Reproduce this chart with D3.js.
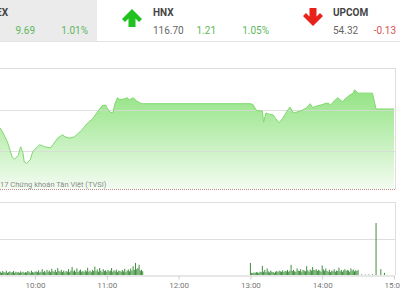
<!DOCTYPE html>
<html>
<head>
<meta charset="utf-8">
<script src="https://cdn.jsdelivr.net/npm/d3@7"></script>
<style>
  body { margin: 0; background: #fff; }
  svg { display: block; font-family: Roboto, "Noto Sans", sans-serif; }
</style>
</head>
<body>
<div id="chart"></div>
<script>
// header quotes
const quoteNames = ["VN-INDEX", "HNX", "UPCOM"];
const quoteValues = ["969.09", "116.70", "54.32"];
const quoteChanges = ["9.69", "1.21", "-0.13"];
const quotePcts = ["1.01%", "1.05%", "-0.24%"];

// intraday index (HNX)
const priceTimes = ["09:15","09:25","09:31","09:33","09:37","09:41","09:43","09:46","09:48","09:50","09:51","09:53","09:56","09:58",
  "10:02","10:04","10:08","10:13","10:15","10:19","10:23","10:25","10:29","10:33","10:39","10:44","10:48","10:52","10:56","10:59",
  "11:00","11:03","11:05","11:07","11:09","11:11","11:14","11:17","11:19","11:22","11:25","11:28","11:30",
  "13:00","13:02","13:05","13:08","13:10","13:11","13:13","13:16","13:19","13:21","13:24","13:27","13:31","13:33","13:36","13:38",
  "13:42","13:45","13:47","13:50","13:52","13:56","13:59","14:02","14:05","14:07","14:10","14:13","14:17","14:19","14:21","14:23",
  "14:26","14:27","14:30","14:42","14:45","15:00"];
const priceValues = [116.60,116.50,116.41,116.35,116.20,115.97,115.94,116.00,116.13,116.03,115.90,115.88,115.93,116.05,
  116.13,116.16,116.13,116.11,116.16,116.26,116.31,116.28,116.26,116.28,116.38,116.49,116.55,116.65,116.75,116.76,
  116.72,116.65,116.64,116.79,116.87,116.84,116.85,116.87,116.84,116.87,116.82,116.79,116.78,
  116.78,116.77,116.68,116.67,116.67,116.50,116.64,116.62,116.61,116.56,116.49,116.56,116.68,116.73,116.64,116.65,
  116.67,116.70,116.72,116.78,116.72,116.75,116.76,116.78,116.79,116.76,116.82,116.87,116.81,116.85,116.88,116.91,
  116.94,116.99,116.94,116.94,116.70,116.70];
const refPrice = 115.49;
const priceTicks = [116.07, 116.69];

// volume, thousand shares, one bar per minute
const amStart = "09:31";
const amVolumes = [45,30,55,40,35,60,30,40,50,35, 40,55,30,45,35,40,30,50,35,45,
  30,40,35,55,45,30,60,40,35,45, 50,40,65,35,45,80,40,55,35,70,
  45,60,40,85,50,45,70,40,95,55, 45,70,40,60,35,55,45,80,40,60,
  110,50,65,45,90,40,60,75,45,55, 40,65,50,100,45,60,40,70,55,115,
  50,75,45,95,60,40,80,55,65,45, 70,50,60,95,45,65,50,75,40,60,
  55,45,70,50,85,40,60,75,50,90, 60,120,70,165,80,95,140,60,70,50];
const pmStart = "13:00";
const pmVolumes = [165,30,25,35,30,40,35,30,45,40, 125,45,70,40,90,50,35,60,45,40,
  30,45,55,40,60,50,45,65,40,55, 50,70,45,60,140,55,70,50,45,90,
  60,55,80,45,70,60,50,120,65,45, 75,60,110,70,65,80,55,70,60,45,
  130,75,60,90,55,45,70,40,60,50, 80,45,60,55,100,50,70,45,65,80,
  55,70,60,45,90,60,75,50,65,55,70];
const atcTimes = ["14:33","14:36","14:39","14:42","14:45","14:49","14:52"];
const atcVolumes = [8,6,8,10,712,80,30];
const volTicks = [500, 1000];

const W = 400, H = 300;
const parse = d3.timeParse("%H:%M");

const svg = d3.select("#chart").append("svg")
  .attr("width", W).attr("height", H);

// ---------- header ----------
const arrowX = [-58, 132, 313];
const labelX = [-38, 153, 333];
const changeX = [35, 216, 396];
const pctX = [88, 269, 449];

svg.append("rect").attr("x", 0).attr("y", 0).attr("width", 97).attr("height", 41).attr("fill", "#ebebeb");
svg.append("line").attr("x1", 0).attr("x2", W).attr("y1", 41.5).attr("y2", 41.5).attr("stroke", "#e4e4e4");

const upArrow = "M0,0 L10,10 L7,13 L3.5,9.5 L3.5,18 L-3.5,18 L-3.5,9.5 L-7,13 L-10,10 Z";
const downArrow = "M0,18 L10,8 L7,5 L3.5,8.5 L3.5,0 L-3.5,0 L-3.5,8.5 L-7,5 L-10,8 Z";

quoteNames.forEach(function(name, i) {
  const up = !quoteChanges[i].startsWith("-");
  const col = up ? "#5cb85c" : "#d9534f";
  svg.append("path")
    .attr("d", up ? upArrow : downArrow)
    .attr("transform", "translate(" + arrowX[i] + "," + (up ? 9 : 8) + ")")
    .attr("fill", up ? "#1fc21f" : "#e8221b");
  svg.append("text").attr("x", labelX[i]).attr("y", 15.5)
    .attr("font-size", 10).attr("font-weight", "bold").attr("fill", "#444").text(name);
  svg.append("text").attr("x", labelX[i]).attr("y", 33.5)
    .attr("font-size", 10).attr("fill", "#666").text(quoteValues[i]);
  svg.append("text").attr("x", changeX[i]).attr("y", 33.5).attr("text-anchor", "end")
    .attr("font-size", 10).attr("fill", col).text(quoteChanges[i]);
  svg.append("text").attr("x", pctX[i]).attr("y", 33.5).attr("text-anchor", "end")
    .attr("font-size", 10).attr("fill", col).text(quotePcts[i]);
});

// ---------- scales ----------
const x = d3.scaleTime()
  .domain([parse("09:00"), parse("15:00")])
  .range([-36.8, 394]);
const y = d3.scaleLinear().domain([refPrice, 117.32]).range([189, 68]);
const yv = d3.scaleLinear().domain([0, 1000]).range([275, 202]);

const priceData = priceTimes.map(function(t, i) { return {t: parse(t), v: priceValues[i]}; });

// ---------- price panel ----------
const defs = svg.append("defs");
const grad = defs.append("linearGradient").attr("id", "fillGrad")
  .attr("gradientUnits", "userSpaceOnUse")
  .attr("x1", 0).attr("x2", 0).attr("y1", 85).attr("y2", 189);
grad.append("stop").attr("offset", "0%").attr("stop-color", "#8de27d");
grad.append("stop").attr("offset", "100%").attr("stop-color", "#f3fcf1");

svg.append("line").attr("x1", 0).attr("x2", 395).attr("y1", 68.5).attr("y2", 68.5).attr("stroke", "#dedede");
svg.append("line").attr("x1", 395.5).attr("x2", 395.5).attr("y1", 68).attr("y2", 189).attr("stroke", "#dedede");

svg.append("path")
  .datum(priceData)
  .attr("fill", "url(#fillGrad)")
  .attr("d", d3.area().x(function(d) { return x(d.t); }).y0(y(refPrice)).y1(function(d) { return y(d.v); }));

svg.selectAll(".pgrid")
  .data(priceTicks)
  .enter().append("line")
  .attr("class", "pgrid")
  .attr("x1", 0).attr("x2", 395)
  .attr("y1", function(d) { return Math.round(y(d)) + 0.5; })
  .attr("y2", function(d) { return Math.round(y(d)) + 0.5; })
  .attr("stroke", "#d8d8d8").attr("stroke-opacity", 0.8);

svg.append("path")
  .datum(priceData)
  .attr("fill", "none")
  .attr("stroke", "#7fd96d")
  .attr("stroke-width", 1)
  .attr("d", d3.line().x(function(d) { return x(d.t); }).y(function(d) { return y(d.v); }));

svg.append("line")
  .attr("x1", 0).attr("x2", 395)
  .attr("y1", Math.round(y(refPrice)) + 0.5).attr("y2", Math.round(y(refPrice)) + 0.5)
  .attr("stroke", "#c08a8a").attr("stroke-dasharray", "1,1");

svg.append("text").attr("x", 0).attr("y", 187)
  .attr("font-size", 7.5).attr("fill", "#8c8c8c")
  .text("17 Chứng khoán Tân Việt (TVSI)");

// ---------- volume panel ----------
svg.selectAll(".vgrid")
  .data(volTicks)
  .enter().append("line")
  .attr("class", "vgrid")
  .attr("x1", 0).attr("x2", 395)
  .attr("y1", function(d) { return Math.round(yv(d)) + 0.5; })
  .attr("y2", function(d) { return Math.round(yv(d)) + 0.5; })
  .attr("stroke", "#dedede");
svg.append("line").attr("x1", 395.5).attr("x2", 395.5).attr("y1", 202).attr("y2", 275).attr("stroke", "#dedede");

const volData = [];
amVolumes.forEach(function(v, i) { volData.push({t: d3.timeMinute.offset(parse(amStart), i), v: v}); });
pmVolumes.forEach(function(v, i) { volData.push({t: d3.timeMinute.offset(parse(pmStart), i), v: v}); });
atcTimes.forEach(function(t, i) { volData.push({t: parse(t), v: atcVolumes[i]}); });

svg.selectAll(".bar")
  .data(volData)
  .enter().append("rect")
  .attr("class", "bar")
  .attr("x", function(d) { return x(d.t) - 0.5; })
  .attr("width", 1)
  .attr("y", function(d) { return yv(d.v); })
  .attr("height", function(d) { return yv(0) - yv(d.v); })
  .attr("fill", "#3f8f3f");

const xAxis = d3.axisBottom(x)
  .ticks(d3.timeHour.every(1))
  .tickFormat(d3.timeFormat("%H:%M"))
  .tickSize(4)
  .tickSizeOuter(0);

const gx = svg.append("g")
  .attr("transform", "translate(0,275.5)")
  .call(xAxis);
gx.select(".domain").attr("stroke", "#cfcfcf");
gx.selectAll(".tick line").attr("stroke", "#cfcfcf");
gx.selectAll(".tick text").attr("fill", "#777").attr("font-size", 8).attr("font-family", "Roboto, sans-serif");
</script>
</body>
</html>
